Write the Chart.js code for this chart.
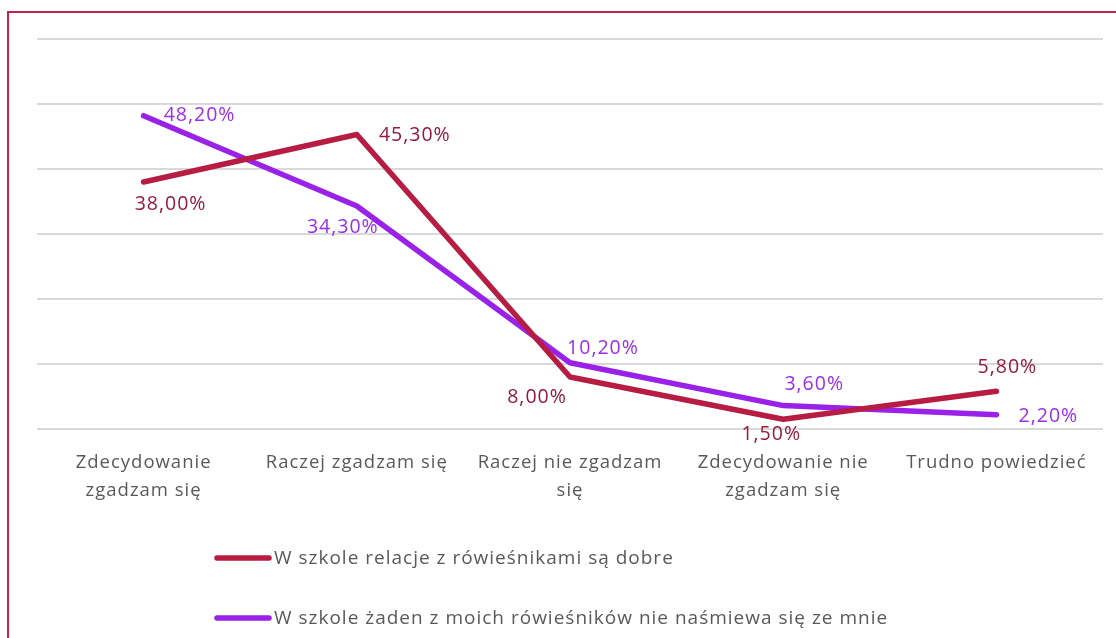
<!DOCTYPE html>
<html>
<head>
<meta charset="utf-8">
<script src="https://cdn.jsdelivr.net/npm/chart.js@4"></script>
<style>
  html, body { margin: 0; padding: 0; background: #fff; }
  #wrap { width: 1116px; height: 638px; position: relative; }
</style>
</head>
<body>
<div id="wrap"><canvas id="chart" width="1116" height="638"></canvas></div>
<script>
const categories = [
  ['Zdecydowanie', 'zgadzam się'],
  'Raczej zgadzam się',
  ['Raczej nie zgadzam', 'się'],
  ['Zdecydowanie nie', 'zgadzam się'],
  'Trudno powiedzieć'
];
const seriesNames = [
  'W szkole relacje z rówieśnikami są dobre',
  'W szkole żaden z moich rówieśników nie naśmiewa się ze mnie'
];
const relacjeDobre = [38.0, 45.3, 8.0, 1.5, 5.8];
const nikt = [48.2, 34.3, 10.2, 3.6, 2.2];
const yTicks = [0, 10, 20, 30, 40, 50, 60];

const FONT = '"Open Sans", Lato, sans-serif';
const SPACING = '1px';
const RED = '#B71D43';
const RED_TEXT = '#951A3C';
const PURPLE = '#9A22E8';
const PURPLE_TEXT = '#9B2EEC';

// label placement relative to the point (px), like Excel's manual label positions
const labelShift = [
  [[27, 22], [58, 1], [-33, 20], [-12, 15], [11, -24]],
  [[56, 0], [-14, 21], [33, -14], [31, -21], [52, 2]]
];

const fmt = v => v.toFixed(2).replace('.', ',') + '%';

const labelsPlugin = {
  id: 'pointLabels',
  afterDatasetsDraw(chart) {
    const { ctx } = chart;
    ctx.save();
    ctx.font = '19.5px ' + FONT;
    ctx.textAlign = 'center';
    ctx.textBaseline = 'middle';
    chart.data.datasets.forEach((ds, i) => {
      const meta = chart.getDatasetMeta(i);
      ctx.fillStyle = ds.labelColor;
      meta.data.forEach((pt, j) => {
        const [dx, dy] = labelShift[i][j];
        ctx.fillText(fmt(ds.data[j]), pt.x + dx, pt.y + dy);
      });
    });
    ctx.restore();
  }
};

const framePlugin = {
  id: 'frameAndLegend',
  beforeLayout(chart) {
    chart.ctx.letterSpacing = SPACING;
  },
  beforeDraw(chart) {
    const { ctx } = chart;
    ctx.letterSpacing = SPACING;
    ctx.save();
    ctx.strokeStyle = '#C3244C';
    ctx.lineWidth = 2;
    ctx.strokeRect(8, 12, 1200, 700);
    ctx.restore();
  },
  afterDraw(chart) {
    const { ctx } = chart;
    ctx.save();
    ctx.font = '19px ' + FONT;
    ctx.textBaseline = 'middle';
    ctx.lineCap = 'round';
    chart.data.datasets.forEach((ds, i) => {
      const y = 558 + i * 60;
      ctx.strokeStyle = ds.borderColor;
      ctx.lineWidth = 5.5;
      ctx.beginPath();
      ctx.moveTo(217, y);
      ctx.lineTo(269, y);
      ctx.stroke();
      ctx.fillStyle = '#595959';
      ctx.fillText(ds.label, 274, y + 1);
    });
    ctx.restore();
  }
};

new Chart(document.getElementById('chart'), {
  type: 'line',
  data: {
    labels: categories,
    datasets: [
      {
        label: seriesNames[0],
        data: relacjeDobre,
        borderColor: RED,
        labelColor: RED_TEXT,
        borderWidth: 5.5,
        borderCapStyle: 'round',
        borderJoinStyle: 'round',
        pointRadius: 0,
        tension: 0
      },
      {
        label: seriesNames[1],
        data: nikt,
        borderColor: PURPLE,
        labelColor: PURPLE_TEXT,
        borderWidth: 5.5,
        borderCapStyle: 'round',
        borderJoinStyle: 'round',
        pointRadius: 0,
        tension: 0
      }
    ]
  },
  options: {
    responsive: false,
    animation: false,
    layout: { padding: { left: 37, right: 13, top: 39, bottom: 89 } },
    plugins: { legend: { display: false }, tooltip: { enabled: false } },
    scales: {
      x: {
        offset: true,
        grid: { display: false },
        border: { display: false },
        ticks: { color: '#595959', font: { family: FONT, size: 18.5, lineHeight: '28px' }, padding: 12, maxRotation: 0 },
        afterFit: scale => { scale.height = 120; }
      },
      y: {
        min: 0,
        max: 60,
        afterBuildTicks: scale => { scale.ticks = yTicks.map(v => ({ value: v })); },
        ticks: { display: false },
        grid: { color: '#D9D9D9', lineWidth: 2, drawTicks: false },
        border: { display: false },
        afterFit: scale => { scale.width = 0; }
      }
    }
  },
  plugins: [labelsPlugin, framePlugin]
});
</script>
</body>
</html>
